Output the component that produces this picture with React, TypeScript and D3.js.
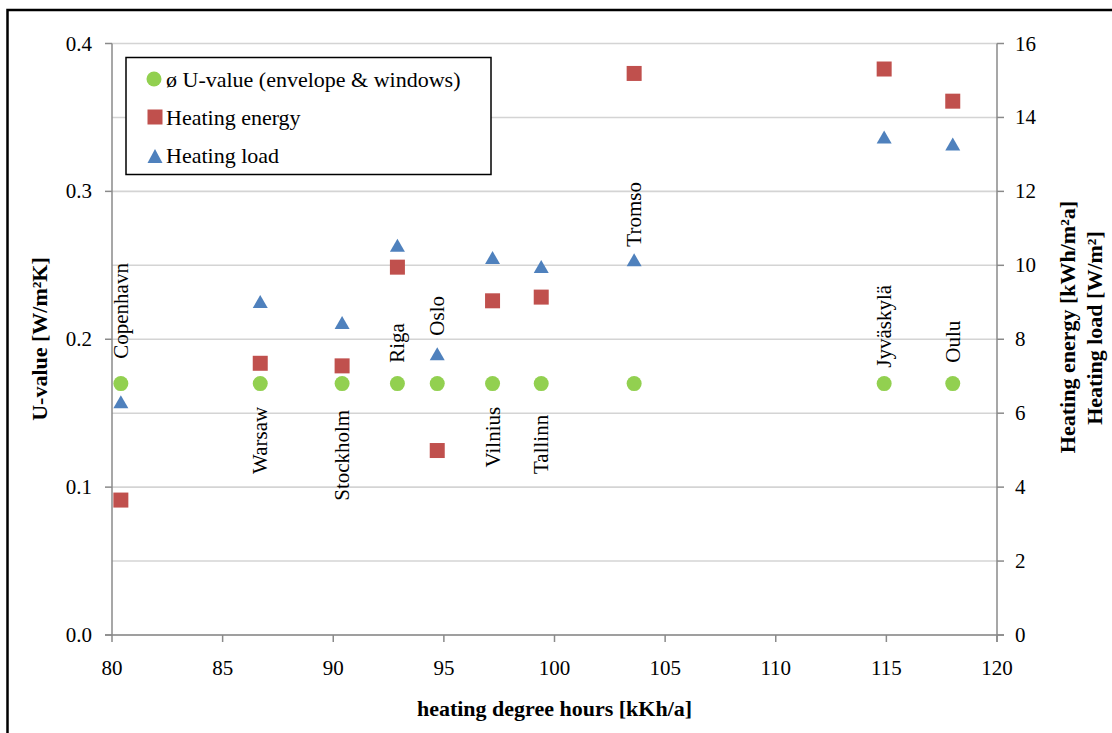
import React from "react";
import * as d3 from "d3";

const cities = ["Copenhavn", "Warsaw", "Stockholm", "Riga", "Oslo", "Vilnius", "Tallinn", "Tromso", "Jyväskylä", "Oulu"];
const degreeHours = [80.4, 86.7, 90.4, 92.9, 94.7, 97.2, 99.4, 103.6, 114.9, 118.0];
const uValue = [0.17, 0.17, 0.17, 0.17, 0.17, 0.17, 0.17, 0.17, 0.17, 0.17];
const heatingEnergy = [3.65, 7.35, 7.28, 9.95, 4.99, 9.04, 9.14, 15.19, 15.31, 14.44];
const heatingLoad = [6.31, 9.02, 8.45, 10.54, 7.61, 10.21, 9.97, 10.15, 13.47, 13.28];
// city label anchor (in U-value units) and side relative to the anchor
const labelAnchorU = [0.1868, 0.1543, 0.1523, 0.1841, 0.2024, 0.1543, 0.1489, 0.2626, 0.1807, 0.1841];
const labelSide = ["above", "below", "below", "above", "above", "below", "below", "above", "above", "above"];

const xTicks = [80, 85, 90, 95, 100, 105, 110, 115, 120];
const yLeftTicks = [0, 0.1, 0.2, 0.3, 0.4];
const yRightTicks = [0, 2, 4, 6, 8, 10, 12, 14, 16];

const legendLabels = ["ø U-value (envelope & windows)", "Heating energy", "Heating load"];

const GREEN = "#92D050";
const RED = "#C0504D";
const BLUE = "#4F81BD";
const FONT = "'Liberation Serif', 'Times New Roman', serif";

const tri = (cx: number, cy: number, w = 15, h = 13) =>
  `M${cx},${cy - h / 2}L${cx + w / 2},${cy + h / 2}L${cx - w / 2},${cy + h / 2}Z`;

export default function App() {
  const left = 112, right = 997, top = 43.5, bottom = 635;
  const x = d3.scaleLinear().domain([80, 120]).range([left, right]);
  const yL = d3.scaleLinear().domain([0, 0.4]).range([bottom, top]);
  const yR = d3.scaleLinear().domain([0, 16]).range([bottom, top]);

  return (
    <svg width={1112} height={733} style={{ position: "absolute", left: 0, top: 0 }} fontFamily={FONT}>
      <rect x={0} y={0} width={1112} height={733} fill="#fff" />
      <rect x={7.5} y={10} width={1200} height={800} fill="none" stroke="#000" strokeWidth={2.5} />

      {/* gridlines */}
      {yRightTicks.map((t) => (
        <line key={"g" + t} x1={left} x2={right} y1={yR(t)} y2={yR(t)} stroke="#d4d4d4" strokeWidth={1.6} />
      ))}

      {/* axes */}
      <line x1={left} x2={left} y1={top} y2={bottom} stroke="#8a8a8a" strokeWidth={1.5} />
      <line x1={right} x2={right} y1={top} y2={bottom + 7} stroke="#8a8a8a" strokeWidth={1.5} />
      <line x1={left - 7} x2={right + 7} y1={bottom} y2={bottom} stroke="#8a8a8a" strokeWidth={1.5} />

      {yLeftTicks.map((t) => (
        <g key={"l" + t}>
          <line x1={left - 7} x2={left} y1={yL(t)} y2={yL(t)} stroke="#8a8a8a" strokeWidth={1.5} />
          <text x={left - 20} y={yL(t)} textAnchor="end" dominantBaseline="central" fontSize={21} fill="#000">
            {d3.format(".1f")(t)}
          </text>
        </g>
      ))}
      {yRightTicks.map((t) => (
        <g key={"r" + t}>
          <line x1={right} x2={right + 7} y1={yR(t)} y2={yR(t)} stroke="#8a8a8a" strokeWidth={1.5} />
          <text x={right + 18} y={yR(t)} textAnchor="start" dominantBaseline="central" fontSize={21} fill="#000">
            {t}
          </text>
        </g>
      ))}
      {xTicks.map((t) => (
        <g key={"x" + t}>
          <line x1={x(t)} x2={x(t)} y1={bottom} y2={bottom + 7} stroke="#8a8a8a" strokeWidth={1.5} />
          <text x={x(t)} y={668} textAnchor="middle" dominantBaseline="central" fontSize={21} fill="#000">
            {t}
          </text>
        </g>
      ))}

      {/* axis titles */}
      <text x={(left + right) / 2} y={716} textAnchor="middle" fontSize={22} fontWeight="bold">
        heating degree hours [kKh/a]
      </text>
      <text transform={`translate(39,339) rotate(-90)`} textAnchor="middle" dominantBaseline="central" fontSize={22} fontWeight="bold">
        U-value [W/m²K]
      </text>
      <text transform={`translate(1067,327) rotate(-90)`} textAnchor="middle" dominantBaseline="central" fontSize={22} fontWeight="bold">
        Heating energy [kWh/m²a]
      </text>
      <text transform={`translate(1094,328) rotate(-90)`} textAnchor="middle" dominantBaseline="central" fontSize={22} fontWeight="bold">
        Heating load [W/m²]
      </text>

      {/* city labels */}
      {cities.map((c, i) => (
        <text
          key={"c" + c}
          transform={`translate(${x(degreeHours[i])},${yL(labelAnchorU[i])}) rotate(-90)`}
          textAnchor={labelSide[i] === "above" ? "start" : "end"}
          dominantBaseline="central"
          fontSize={21}
          fill="#000"
        >
          {c}
        </text>
      ))}

      {/* markers */}
      {degreeHours.map((d, i) => (
        <circle key={"u" + i} cx={x(d)} cy={yL(uValue[i])} r={7.5} fill={GREEN} />
      ))}
      {degreeHours.map((d, i) => (
        <rect key={"e" + i} x={x(d) - 7.5} y={yR(heatingEnergy[i]) - 7.5} width={15} height={15} fill={RED} />
      ))}
      {degreeHours.map((d, i) => (
        <path key={"h" + i} d={tri(x(d), yR(heatingLoad[i]))} fill={BLUE} />
      ))}

      {/* legend */}
      <rect x={126} y={57.5} width={365} height={117} fill="#fff" stroke="#000" strokeWidth={1.5} />
      <circle cx={154} cy={79} r={7.5} fill={GREEN} />
      <rect x={147.5} y={109.5} width={15} height={15} fill={RED} />
      <path d={tri(155, 156, 15, 14)} fill={BLUE} />
      {legendLabels.map((l, i) => (
        <text key={l} x={166} y={79 + i * 38} dominantBaseline="central" fontSize={22} fill="#000">
          {l}
        </text>
      ))}
    </svg>
  );
}
